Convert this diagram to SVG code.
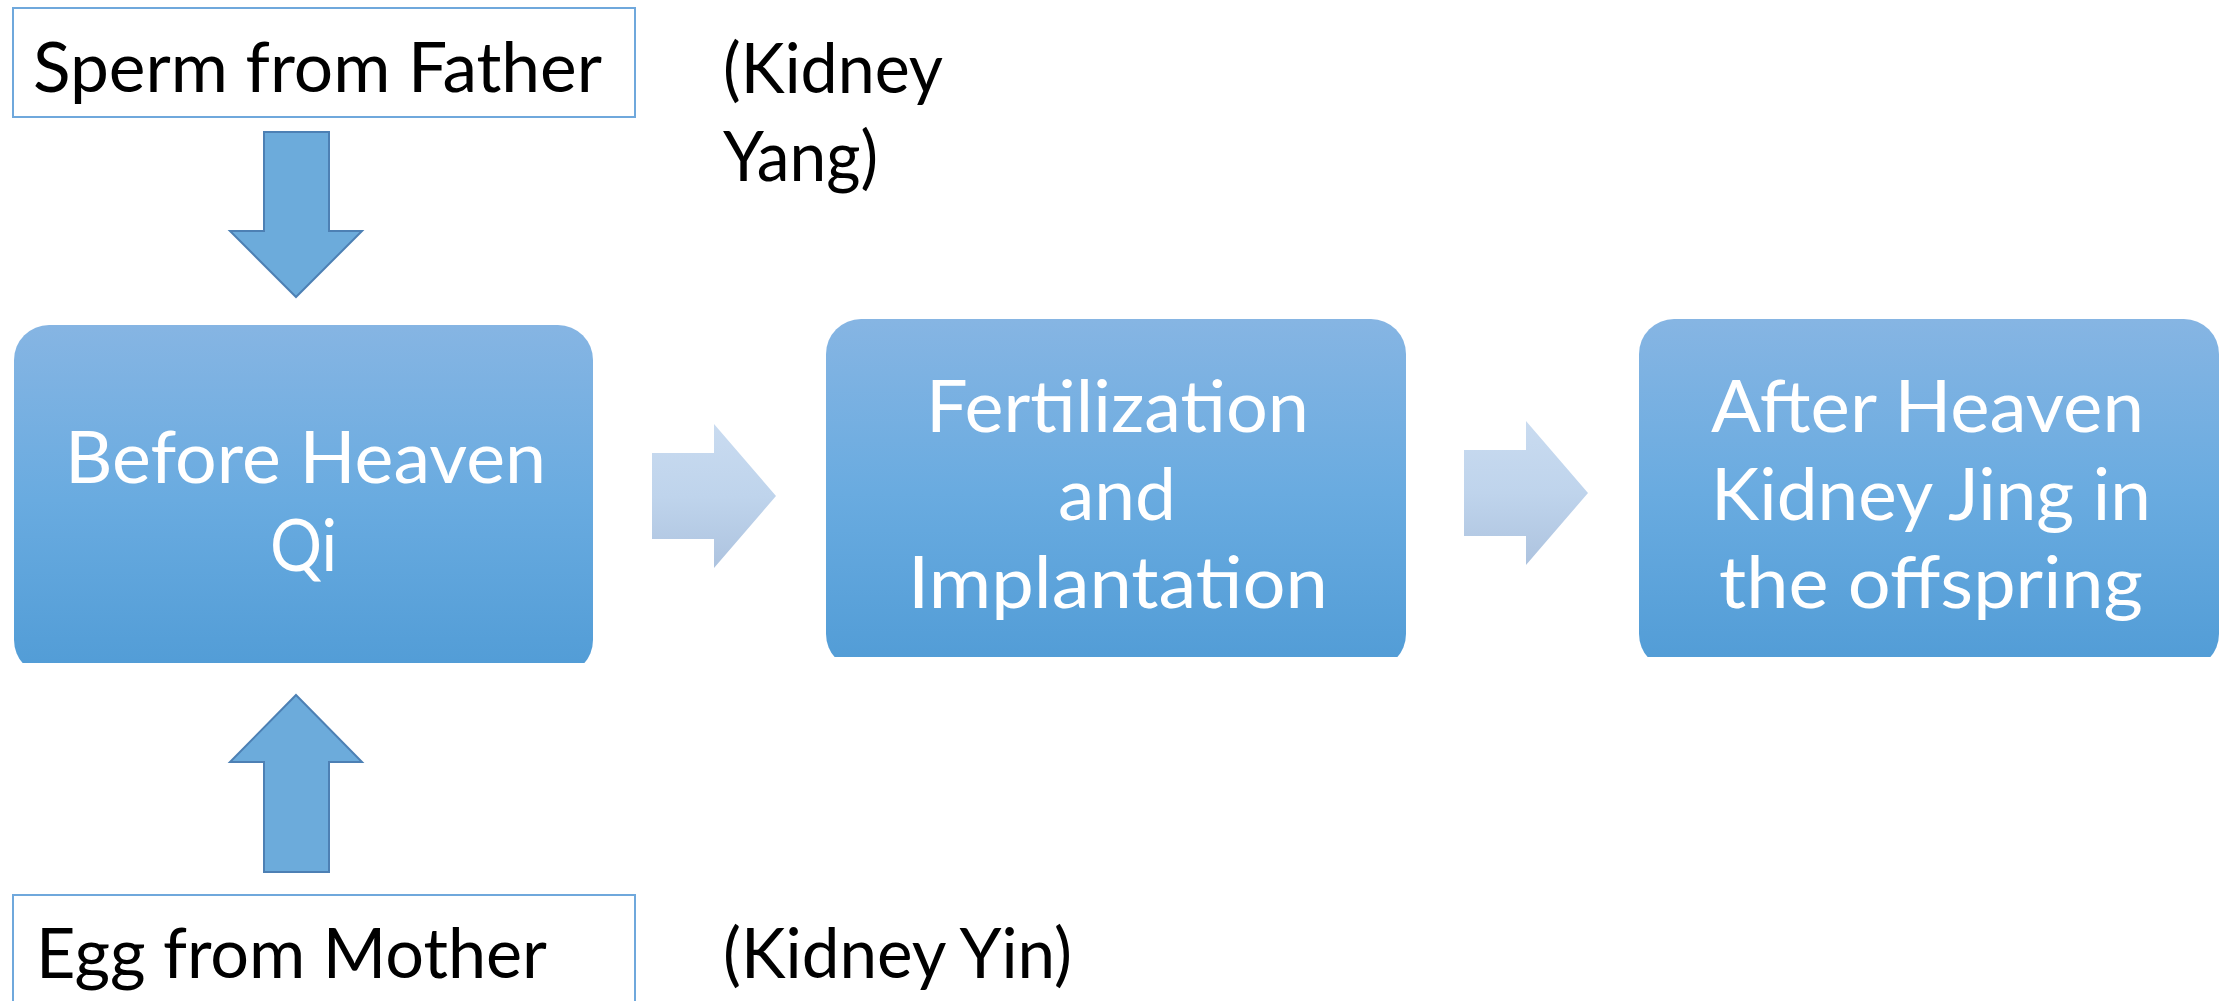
<svg xmlns="http://www.w3.org/2000/svg" width="2226" height="1001" viewBox="0 0 2226 1001">
<style>
  .lbl { font-family: Lato, "Liberation Sans", sans-serif; font-size: 70px; fill: #000; }
  .wt { font-family: Lato, "Liberation Sans", sans-serif; font-size: 71px; fill: #fff; }
  .tbox { fill: #fff; stroke: #6fa8dc; stroke-width: 2; }
  .node { fill: url(#boxGrad); }
  .vert { fill: #6cabdb; stroke: #4d80b4; stroke-width: 2; }
  .chev { fill: url(#chevGrad); }
</style>
<defs>
  <linearGradient id="boxGrad" x1="0" y1="0" x2="0" y2="1">
    <stop offset="0" stop-color="#86b5e3"/>
    <stop offset="0.5" stop-color="#69abe0"/>
    <stop offset="1" stop-color="#519cd6"/>
  </linearGradient>
  <linearGradient id="chevGrad" x1="0" y1="0" x2="0" y2="1">
    <stop offset="0" stop-color="#c9dbf0"/>
    <stop offset="0.5" stop-color="#bfd4ec"/>
    <stop offset="1" stop-color="#adc3df"/>
  </linearGradient>
  <clipPath id="cut" clipPathUnits="objectBoundingBox">
    <rect x="0" y="0" width="1" height="0.966"/>
  </clipPath>
</defs>
<rect width="2226" height="1001" fill="#fff"/>

<g id="sperm">
  <rect class="tbox" x="13" y="8" width="622" height="109"/>
  <text class="lbl" x="33" y="92" textLength="569" lengthAdjust="spacingAndGlyphs">Sperm from Father</text>
</g>
<g id="kidney-yang">
  <text class="lbl" x="723" y="93" textLength="220" lengthAdjust="spacingAndGlyphs">(Kidney</text>
  <text class="lbl" x="723" y="181" textLength="155" lengthAdjust="spacingAndGlyphs">Yang)</text>
</g>

<g id="before-heaven">
  <rect class="node" x="14" y="325" width="579" height="350" rx="35" ry="35" clip-path="url(#cut)"/>
  <text class="wt" x="65" y="483" textLength="481" lengthAdjust="spacingAndGlyphs">Before Heaven</text>
  <text class="wt" x="270" y="571" textLength="67" lengthAdjust="spacingAndGlyphs">Qi</text>
</g>

<g id="fertilization">
  <rect class="node" x="826" y="319" width="580" height="350" rx="35" ry="35" clip-path="url(#cut)"/>
  <text class="wt" x="926" y="432" textLength="383" lengthAdjust="spacingAndGlyphs">Fertilization</text>
  <text class="wt" x="1058" y="520" textLength="118" lengthAdjust="spacingAndGlyphs">and</text>
  <text class="wt" x="908" y="608" textLength="420" lengthAdjust="spacingAndGlyphs">Implantation</text>
</g>

<g id="after-heaven">
  <rect class="node" x="1639" y="319" width="580" height="350" rx="35" ry="35" clip-path="url(#cut)"/>
  <text class="wt" x="1711" y="432" textLength="433" lengthAdjust="spacingAndGlyphs">After Heaven</text>
  <text class="wt" x="1711" y="520" textLength="440" lengthAdjust="spacingAndGlyphs">Kidney Jing in</text>
  <text class="wt" x="1719" y="608" textLength="424" lengthAdjust="spacingAndGlyphs">the offspring</text>
</g>

<g id="egg">
  <rect class="tbox" x="13" y="895" width="622" height="130"/>
  <text class="lbl" x="36" y="978" textLength="511" lengthAdjust="spacingAndGlyphs">Egg from Mother</text>
</g>
<g id="kidney-yin">
  <text class="lbl" x="723" y="978" textLength="349" lengthAdjust="spacingAndGlyphs">(Kidney Yin)</text>
</g>

<g id="connectors">
  <polygon class="vert" points="264,132 329,132 329,231 362,231 296,297 230,231 264,231"/>
  <polygon class="vert" points="296,695 362,762 329,762 329,872 264,872 264,762 230,762"/>
  <polygon class="chev" points="652,453 714,453 714,424 776,496 714,568 714,539 652,539"/>
  <polygon class="chev" points="1464,450 1526,450 1526,421 1588,493 1526,565 1526,536 1464,536"/>
</g>
</svg>
